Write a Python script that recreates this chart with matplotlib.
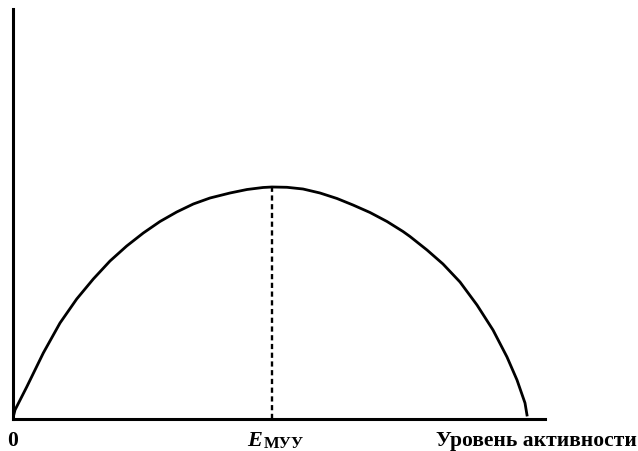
import numpy as np
import matplotlib.pyplot as plt

# уровень активности (x) и эффективность (y), оценено по рисунку
activity = [1, 2, 13.7, 30.3, 47, 63.7, 80.3, 97, 113.7, 130.3, 147, 163.7, 180.3,
            197, 217, 234, 250, 259, 274, 290, 307, 324, 340, 357, 374, 390, 397, 414,
            430, 447, 464, 480, 494, 504, 512, 514]
effect = [5, 9, 32, 66, 96, 120, 140, 158, 173, 186, 197.5, 207, 215,
          221, 226, 229.5, 231.5, 232, 231.7, 230, 226, 220.5, 214, 206.5, 197.5, 187.5, 182.5, 169,
          155, 137, 114, 89, 62, 39, 16, 4]
peak_x = 259
peak_y = 232

fig = plt.figure(figsize=(6.38, 4.51), dpi=100)
ax = fig.add_axes([13/638, 32/451, 532/638, 410/451])

ax.plot(activity, effect, color="black", lw=2.0, solid_joinstyle="round")
ax.plot([peak_x, peak_x], [0, peak_y], color="black", lw=1.7, linestyle=(0, (2.2, 1.5)))

ax.set_xlim(0, 532)
ax.set_ylim(0, 410)
for s in ["top", "right"]:
    ax.spines[s].set_visible(False)
ax.spines["left"].set_linewidth(2.2)
ax.spines["bottom"].set_linewidth(2.2)
ax.set_xticks([])
ax.set_yticks([])

fnt = dict(family="Liberation Serif", color="black", weight="bold", va="baseline")
fig.text(13/638, 1 - 446/451, "0", ha="center", fontsize=15.5, **fnt)
fig.text(262/638, 1 - 446/451, "E", ha="right", fontsize=16, style="italic", **fnt)
fig.text(264/638, 1 - 448/451, "МУУ", ha="left", fontsize=12, **fnt)
fig.text(637/638, 1 - 446/451, "Уровень активности", ha="right", fontsize=15.5, **fnt)

fig.savefig("out.png", dpi=100)
